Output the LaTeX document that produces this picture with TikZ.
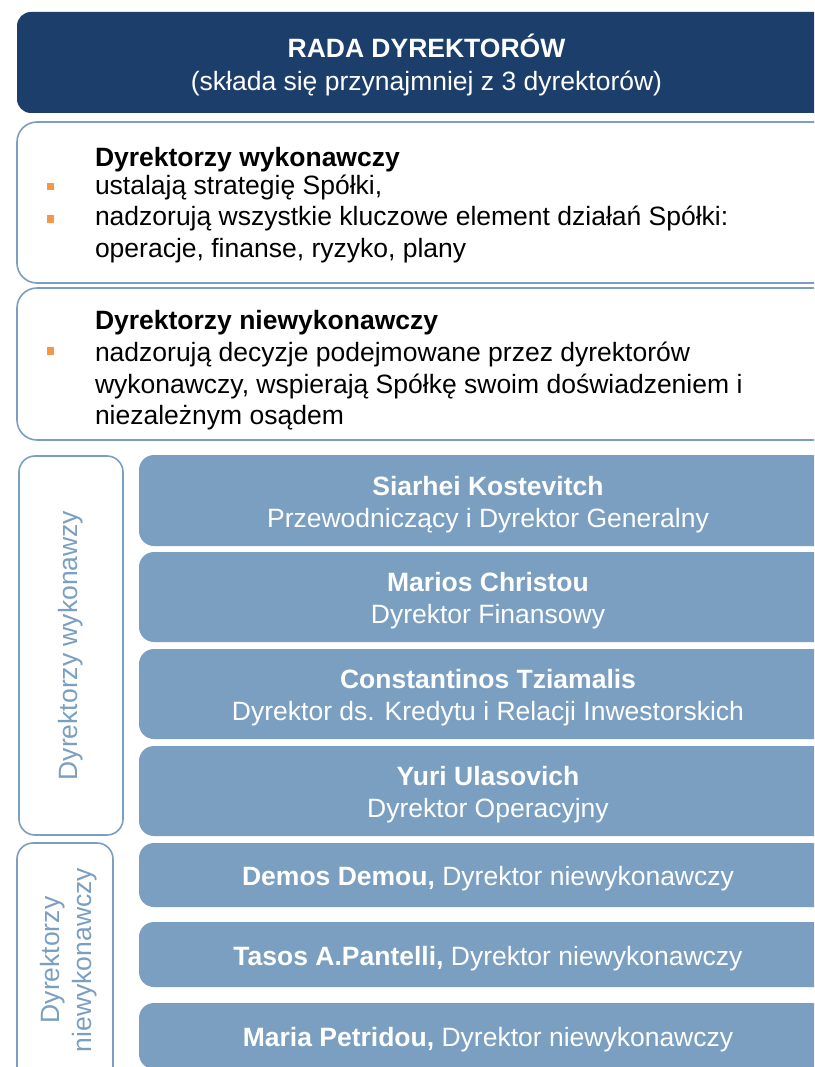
\documentclass[tikz,border=0pt]{standalone}
\usepackage{fontspec}
\setmainfont{Liberation Sans}
\definecolor{navy}{HTML}{1B3E6B}
\definecolor{steel}{HTML}{7A9FC1}
\definecolor{bulletor}{HTML}{F79646}
\begin{document}
\begin{tikzpicture}[x=1pt,y=-1pt,
 every node/.style={font=\fontsize{26.5}{32}\selectfont, inner sep=0pt, outer sep=0pt},
 hdr/.style={fill=navy, rounded corners=14pt, anchor=north west},
 hdrtext/.style={text=white, align=center},
 panel/.style={draw=steel, line width=1.6pt, fill=white, rounded corners=20pt, anchor=north west},
 member/.style={fill=steel, rounded corners=15pt, anchor=north west, minimum width=698pt},
 mtext/.style={text=white, align=center},
 tagbox/.style={draw=steel, line width=1.6pt, rounded corners=16pt, anchor=north west},
 taglbl/.style={text=steel, rotate=90, align=center},
 txt/.style={anchor=west, text=black},
 bul/.style={fill=bulletor, minimum width=7.5pt, minimum height=7.5pt}]
\useasboundingbox (0,0) rectangle (814,1067);
\clip (0,0) rectangle (814,1067);
\fill[white] (0,0) rectangle (814,1067);

% header
\node[hdr, minimum width=819pt, minimum height=101pt] (rada) at (17,12) {};
\node[hdrtext] (radaT) at ([yshift=-3pt]rada.center)
  {\textbf{RADA DYREKTORÓW}\\[1pt](składa się przynajmniej z 3 dyrektorów)};

% executive panel
\node[panel, minimum width=840pt, minimum height=161pt] (pexec) at (17,122) {};
\node[txt] (pexecT) at (95,160) {\textbf{Dyrektorzy wykonawczy}};
\node[bul] (b1) at (50.5,186.5) {};
\node[txt] (pexec1) at (95,188) {ustalają strategię Spółki,};
\node[bul] (b2) at (50.5,219) {};
\node[txt] (pexec2) at (95,219) {nadzorują wszystkie kluczowe element działań Spółki:};
\node[txt] (pexec3) at (95,251) {operacje, finanse, ryzyko, plany};

% non-executive panel
\node[panel, minimum width=840pt, minimum height=152pt] (pnon) at (17,288) {};
\node[txt] (pnonT) at (95,323) {\textbf{Dyrektorzy niewykonawczy}};
\node[bul] (b3) at (50.5,351) {};
\node[txt] (pnon1) at (95,355) {nadzorują decyzje podejmowane przez dyrektorów};
\node[txt] (pnon2) at (95,387) {wykonawczy, wspierają Spółkę swoim doświadzeniem i};
\node[txt] (pnon3) at (95,418) {niezależnym osądem};

% left tags
\node[tagbox, minimum width=104pt, minimum height=379pt] (tagA) at (19,456) {};
\node[taglbl] (tagAl) at (tagA.center) {Dyrektorzy wykonawzy};
\node[tagbox, minimum width=96pt, minimum height=240pt] (tagB) at (17,843) {};
\node[taglbl] (tagBl) at (69,960) {Dyrektorzy\\niewykonawczy};

% members
\node[member, minimum height=91pt] (m1) at (139,455) {};
\node[mtext] (m1t) at ([yshift=-4pt]m1.center)
  {\textbf{Siarhei Kostevitch}\\Przewodniczący i Dyrektor Generalny};
\node[member, minimum height=90pt] (m2) at (139,552) {};
\node[mtext] (m2t) at ([yshift=-4pt]m2.center)
  {\textbf{Marios Christou}\\Dyrektor Finansowy};
\node[member, minimum height=90pt] (m3) at (139,649) {};
\node[mtext] (m3t) at ([yshift=-4pt]m3.center)
  {\textbf{Constantinos Tziamalis}\\Dyrektor ds. Kredytu i Relacji Inwestorskich};
\node[member, minimum height=90pt] (m4) at (139,746) {};
\node[mtext] (m4t) at ([yshift=-4pt]m4.center)
  {\textbf{Yuri Ulasovich}\\Dyrektor Operacyjny};
\node[member, minimum height=64pt] (m5) at (139,843) {};
\node[mtext] (m5t) at ([yshift=-4pt]m5.center)
  {\textbf{Demos Demou,} Dyrektor niewykonawczy};
\node[member, minimum height=65pt] (m6) at (139,922) {};
\node[mtext] (m6t) at ([yshift=-4pt]m6.center)
  {\textbf{Tasos A.Pantelli,} Dyrektor niewykonawczy};
\node[member, minimum height=66pt] (m7) at (139,1003) {};
\node[mtext] (m7t) at ([yshift=-4pt]m7.center)
  {\textbf{Maria Petridou,} Dyrektor niewykonawczy};
\end{tikzpicture}
\end{document}
